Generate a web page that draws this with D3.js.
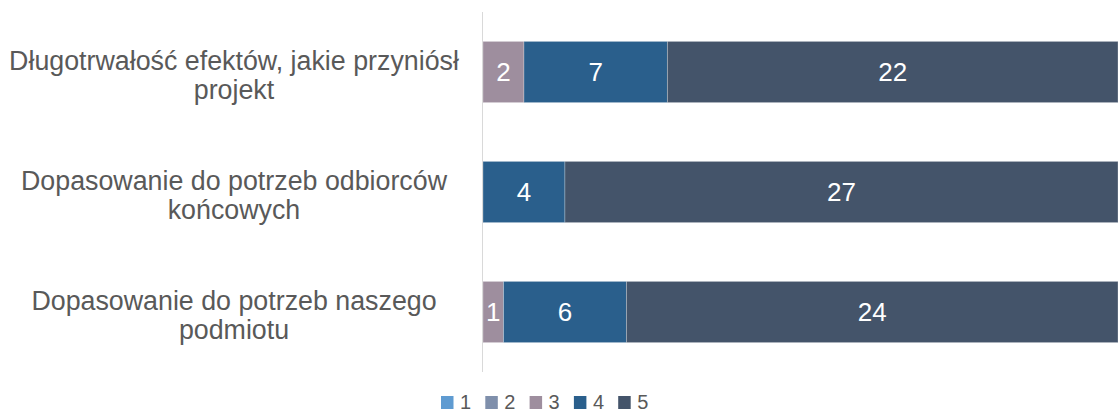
<!DOCTYPE html>
<html>
<head>
<meta charset="utf-8">
<script src="https://cdn.jsdelivr.net/npm/d3@7"></script>
<style>
  body { margin: 0; background: #fff; }
  svg { display: block; font-family: "Liberation Sans", Arial, sans-serif; }
</style>
</head>
<body>
<div id="chart"></div>
<script>
// --- Data ---
const categories = [
  ["Długotrwałość efektów, jakie przyniósł", "projekt"],
  ["Dopasowanie do potrzeb odbiorców", "końcowych"],
  ["Dopasowanie do potrzeb naszego", "podmiotu"]
];
const seriesKeys = ["1", "2", "3", "4", "5"];
const s1 = [0, 0, 0];
const s2 = [0, 0, 0];
const s3 = [2, 0, 1];
const s4 = [7, 4, 6];
const s5 = [22, 27, 24];
const colors = ["#5f9bd1", "#7f8fab", "#9e8e9e", "#2a5f8c", "#44546a"];

const rows = categories.map((c, i) => ({
  id: i, label: c,
  "1": s1[i], "2": s2[i], "3": s3[i], "4": s4[i], "5": s5[i]
}));

// --- Setup ---
const W = 1118, H = 413;
const svg = d3.select("#chart").append("svg")
  .attr("width", W).attr("height", H);

const x = d3.scaleLinear().domain([0, 31]).range([483, 1118]);
const y = d3.scaleBand().domain(rows.map(d => d.id)).range([12, 372]).paddingInner(0.49).paddingOuter(0.245);
const color = d3.scaleOrdinal().domain(seriesKeys).range(colors);

const stacked = d3.stack().keys(seriesKeys)(rows);

// bars
const layers = svg.append("g").selectAll("g")
  .data(stacked)
  .join("g")
  .attr("fill", d => color(d.key));

layers.selectAll("rect")
  .data(d => d.filter(p => p[1] - p[0] > 0))
  .join("rect")
  .attr("x", d => x(d[0]))
  .attr("y", d => y(d.data.id))
  .attr("width", d => x(d[1]) - x(d[0]))
  .attr("height", y.bandwidth())
  .attr("stroke", "rgba(255,255,255,0.35)")
  .attr("stroke-width", 0.75);

// value labels
layers.selectAll("text")
  .data(d => d.filter(p => p[1] - p[0] > 0))
  .join("text")
  .attr("x", d => (x(d[0]) + x(d[1])) / 2)
  .attr("y", d => y(d.data.id) + y.bandwidth() / 2)
  .attr("dy", "0.36em")
  .attr("text-anchor", "middle")
  .attr("fill", "#fff")
  .attr("font-size", 26)
  .text(d => d[1] - d[0]);

// axis line
svg.append("line")
  .attr("x1", 482.5).attr("x2", 482.5)
  .attr("y1", 12).attr("y2", 372)
  .attr("stroke", "#d9d9d9").attr("stroke-width", 1);

// category labels
const catLabels = svg.append("g").selectAll("text")
  .data(rows)
  .join("text")
  .attr("text-anchor", "middle")
  .attr("fill", "#595959")
  .attr("font-size", 26.8)
  .attr("transform", d => `translate(234, ${y(d.id) + y.bandwidth() / 2 + 3})`);

catLabels.selectAll("tspan")
  .data(d => d.label)
  .join("tspan")
  .attr("x", 0)
  .attr("y", (d, i) => (i - 0.5) * 28.5)
  .attr("dy", "0.36em")
  .text(d => d);

// legend (kept inside the frame)
const legend = svg.append("g").selectAll("g")
  .data(seriesKeys)
  .join("g")
  .attr("transform", (d, i) => `translate(${441 + i * 44.3}, 396)`);

legend.append("rect")
  .attr("width", 12.5).attr("height", 13)
  .attr("fill", d => color(d));

legend.append("text")
  .attr("x", 19).attr("y", 12.5)
  .attr("fill", "#595959")
  .attr("font-size", 20)
  .text(d => d);
</script>
</body>
</html>
